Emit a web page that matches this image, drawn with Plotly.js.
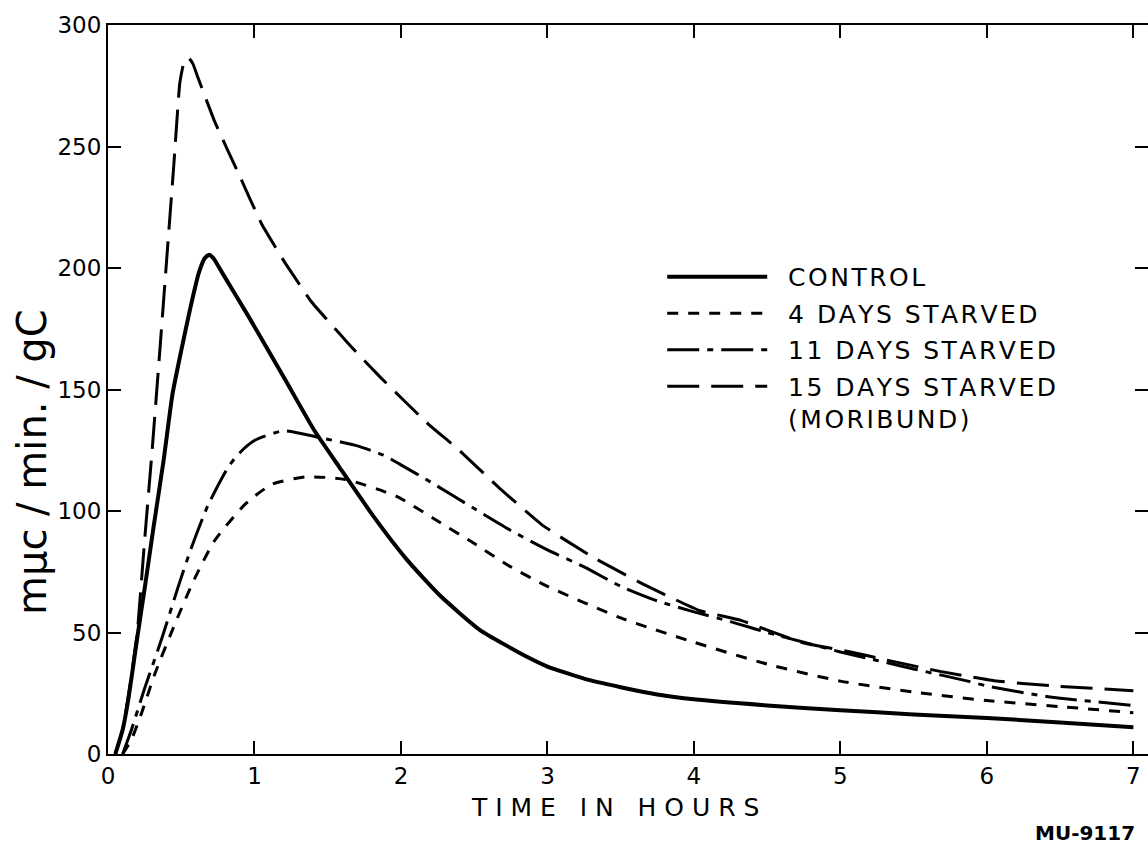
<!DOCTYPE html>
<html>
<head>
<meta charset="utf-8">
<script src="https://cdn.plot.ly/plotly-3.0.1.min.js"></script>
<style>html,body{margin:0;padding:0;background:#fff;overflow:hidden}#chart{width:1148px;height:845px}</style>
</head>
<body>
<div id="chart"></div>
<script>
// Series data (time in hours, mμc/min./gC)
const controlX = [0.05,0.1,0.14,0.2,0.25,0.31,0.38,0.44,0.5,0.56,0.62,0.66,0.69,0.72,0.78,0.96,1.21,1.41,1.58,1.81,2.04,2.27,2.54,2.86,3.0,3.25,3.5,3.75,4.0,4.5,5.0,5.5,6.0,6.5,7.0];
const controlY = [0,10,23,48,68,93,121,148,166,183,198,204,205.5,204,198,180,154,133,118,98,80,65,51,40,36,31,27.5,24.5,22.5,20,18,16.3,14.8,13,11];

const days4X = [0.1,0.16,0.23,0.32,0.46,0.59,0.73,0.94,1.12,1.35,1.62,1.97,2.22,2.49,2.75,3.0,3.5,4.0,4.5,5.0,5.5,6.0,6.5,7.0];
const days4Y = [0,6,17,33,54,72,88,103,111,114,113,106,97,87,77,69,56,46,37,30,25.5,22,19.5,17];

const days11X = [0.1,0.16,0.25,0.37,0.48,0.57,0.68,0.82,0.9,1.0,1.2,1.46,1.69,1.88,2.0,2.2,2.5,2.75,3.0,3.25,3.5,3.75,4.0,4.25,4.5,4.75,5.0,5.25,5.5,5.87,6.0,6.43,7.0];
const days11Y = [0,10,27,48,69,85,102,118,124,129,133,130,127,123,119,112,101,92,84,77,69,63,58.5,54.5,50,46,42,38.5,35,30,28,23.5,20];

const days15X = [0.05,0.1,0.15,0.2,0.25,0.3,0.35,0.4,0.45,0.49,0.52,0.55,0.58,0.61,0.73,0.89,1.05,1.21,1.39,1.58,1.67,1.86,2.2,2.38,2.68,2.97,3.31,3.65,4.04,4.32,4.73,5.07,5.29,5.68,6.07,6.46,7.0];
const days15Y = [0,10,28,50,88,124,163,203,243,276,285,286.5,284,279,260,239,218,202,186,173,167,155,135,126,109,94,81,70,59,55,46,42,39,34,30,28,26];

const seriesNames = ["CONTROL","4 DAYS STARVED","11 DAYS STARVED","15 DAYS STARVED<br>(MORIBUND)"];
const xTitle = "TIME IN HOURS";
const yTitle = "mμc / min. / gC";
const figureCode = "MU-9117";
const xTickVals = [0,1,2,3,4,5,6,7];
const xTickText = ["0","1","2","3","4","5","6","7"];
const yTickVals = [0,50,100,150,200,250,300];
const yTickText = ["0","50","100","150","200","250","300"];

const FONT = "DejaVu Sans, Liberation Sans, sans-serif";
const HS = "\u200A"; // hair space for letter spacing
const NB = "\u00A0";

function spaced(s, gap, wordGap) {
  return s.split("<br>").map(line =>
    line.split(" ").map(w => w.split("").join(gap)).join(wordGap)
  ).join("<br>" + NB + NB);
}

function tr(x, y, name, dash, width, g, sm) {
  return {x: x, y: y, name: NB + NB + spaced(name, HS, NB + HS + HS), legendgroup: g,
    type: "scatter", mode: "lines",
    line: {color: "#000", width: width, dash: dash, shape: "spline", smoothing: sm}};
}

const data = [
  tr(controlX, controlY, seriesNames[0], "solid", 4, "a", 0.5),
  tr(days4X, days4Y, seriesNames[1], "11px,10px", 3, "b", 0.6),
  tr(days11X, days11Y, seriesNames[2], "32px,8px,6px,8px", 3, "c", 0.6),
  tr(days15X, days15Y, seriesNames[3], "32px,12px", 3, "d", 0.35)
];

const layout = {
  width: 1148, height: 845,
  margin: {l: 108, r: 0, t: 25, b: 91},
  paper_bgcolor: "#fff", plot_bgcolor: "#fff",
  font: {family: FONT, color: "#000", size: 23},
  showlegend: true,
  legend: {x: 0.5329, xanchor: "left", y: 0.686, yanchor: "top",
    bgcolor: "rgba(0,0,0,0)", font: {family: FONT, size: 25, color: "#000"},
    itemwidth: 100, tracegroupgap: 1, valign: "top"},
  xaxis: {range: [0, 7.1], tickvals: xTickVals, ticktext: xTickText,
    ticks: "inside", ticklen: 13, tickwidth: 2, tickcolor: "#000",
    showline: true, linewidth: 2, linecolor: "#000", mirror: "ticks",
    showgrid: false, zeroline: false, tickfont: {family: FONT, size: 23}},
  yaxis: {range: [0, 300], tickvals: yTickVals, ticktext: yTickText,
    ticks: "inside", ticklen: 13, tickwidth: 2, tickcolor: "#000",
    showline: true, linewidth: 2, linecolor: "#000", mirror: "ticks",
    showgrid: false, zeroline: false, tickfont: {family: FONT, size: 23}},
  annotations: [
    {text: spaced(xTitle, NB, NB + NB + NB), xref: "paper", yref: "paper",
     x: (615-108)/1040, y: -(807-754)/729, xanchor: "center", yanchor: "middle",
     showarrow: false, borderpad: 0, font: {family: FONT, size: 25, color: "#000"}},
    {text: yTitle, xref: "paper", yref: "paper",
     x: -108/1040 + 32/1040, y: (754-462)/729, xanchor: "center", yanchor: "middle",
     textangle: -90, showarrow: false, font: {family: FONT, size: 40, color: "#000"}},
    {text: "<b>" + figureCode + "</b>", xref: "paper", yref: "paper",
     x: (1137-108)/1040, y: -(833-754)/729, xanchor: "right", yanchor: "middle",
     showarrow: false, font: {family: FONT, size: 20, color: "#000"}}
  ]
};

Plotly.newPlot("chart", data, layout, {staticPlot: true, displayModeBar: false});
</script>
</body>
</html>
